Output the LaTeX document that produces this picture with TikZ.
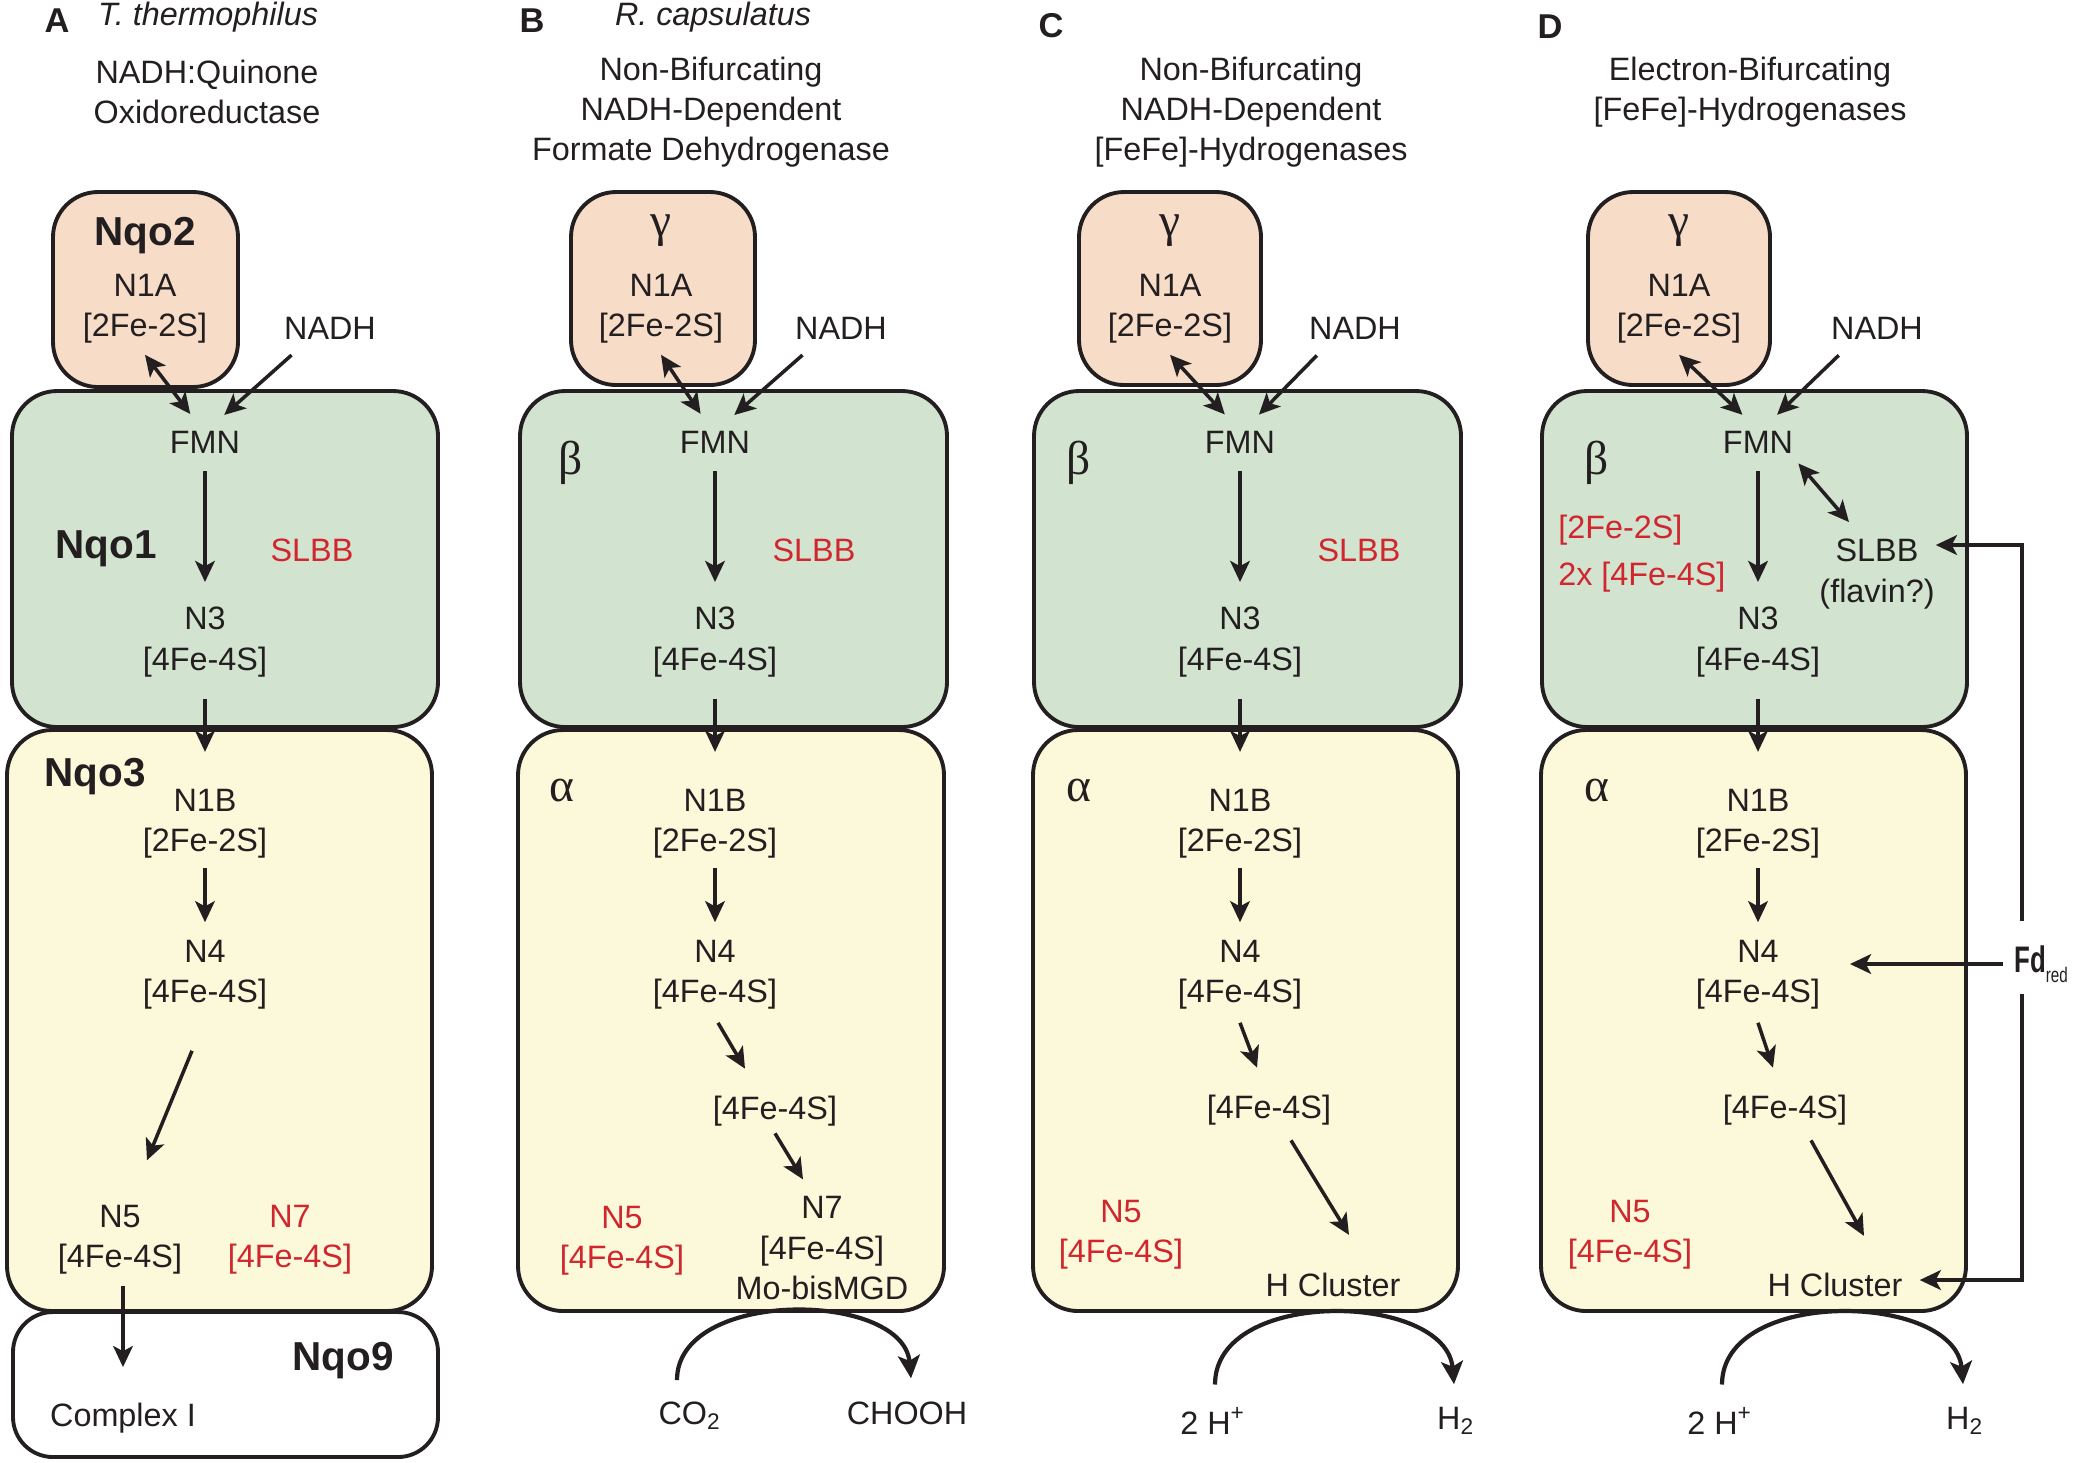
\documentclass[tikz,border=0pt]{standalone}
\usepackage{fontspec}
\setmainfont{Liberation Sans}
\newfontfamily\gkfont{Liberation Serif}
\usepackage{graphicx}
\usepackage{tikz}
\usetikzlibrary{arrows.meta,calc}

\definecolor{peach}{HTML}{F7DCC8}
\definecolor{mint}{HTML}{D2E3D0}
\definecolor{cream}{HTML}{FCF8DA}
\definecolor{inkc}{HTML}{231F20}
\definecolor{cofred}{HTML}{D0262D}

\newcommand{\fefour}{[4Fe-4S]}
\newcommand{\fetwo}{[2Fe-2S]}

\begin{document}
\begin{tikzpicture}[x=0.01cm, y=-0.01cm,
    every node/.style={inner sep=3pt, text=inkc, align=center, font=\fontsize{9.2}{11.4}\selectfont},
    pan/.style={font=\fontsize{9.8}{12}\selectfont\bfseries},
    org/.style={font=\fontsize{9.2}{11.4}\selectfont\itshape},
    sub/.style={font=\fontsize{11.5}{13}\selectfont\bfseries},
    gk/.style={font=\fontsize{13.5}{15}\selectfont\gkfont},
    cof/.style={text=cofred},
    topbox/.style={draw=inkc, line width=1.1pt, fill=peach, rounded corners=0.45cm},
    midbox/.style={draw=inkc, line width=1.1pt, fill=mint, rounded corners=0.45cm},
    lowbox/.style={draw=inkc, line width=1.1pt, fill=cream, rounded corners=0.45cm},
    basebox/.style={draw=inkc, line width=1.1pt, fill=white, rounded corners=0.4cm},
    arr/.style={draw=inkc, line width=1pt, -{Stealth[length=6pt,width=5.6pt,inset=1.5pt]}},
    dbl/.style={draw=inkc, line width=1pt, {Stealth[length=6pt,width=5.6pt,inset=1.5pt]}-{Stealth[length=6pt,width=5.6pt,inset=1.5pt]}},
    rxn/.style={draw=inkc, line width=1.2pt, -{Stealth[length=6.5pt,width=6.2pt,inset=1.5pt]}},
]
\useasboundingbox (0,0) rectangle (2073,1462);

% subunit boxes
\draw[topbox] (53,192) rectangle (238,387);
\draw[midbox] (12,391) rectangle (438,727);
\draw[lowbox] (7,730) rectangle (432,1311);
\draw[basebox] (13,1312) rectangle (438,1457);
\draw[topbox] (571,192) rectangle (755,385);
\draw[midbox] (520,391) rectangle (947,727);
\draw[lowbox] (518,730) rectangle (944,1311);
\draw[topbox] (1079,192) rectangle (1261,385);
\draw[midbox] (1034,391) rectangle (1461,727);
\draw[lowbox] (1033,730) rectangle (1458,1311);
\draw[topbox] (1588,192) rectangle (1770,385);
\draw[midbox] (1542,391) rectangle (1967,727);
\draw[lowbox] (1541,730) rectangle (1966,1311);

% A
\node[pan] (pA) at (57,21) {A};
\node[org] (oA) at (208,17) {T. thermophilus};
\node (tA) at (207,92) {NADH:Quinone\\Oxidoreductase};
\node[sub] (qo2) at (145,236) {Nqo2};
\node (n1aA) at (145,309) {N1A\\\fetwo};
\node (nadhA) at (330,328) {NADH};
\node (fmnA) at (205,442) {FMN};
\node[sub] (qo1) at (106,549) {Nqo1};
\node[cof] (slbbA) at (312,550) {SLBB};
\node (n3A) at (205,642) {N3\\\fefour};
\node[sub] (qo3) at (95,777) {Nqo3};
\node (n1bA) at (205,824) {N1B\\\fetwo};
\node (n4A) at (205,975) {N4\\\fefour};
\node (n5A) at (120,1240) {N5\\\fefour};
\node[cof] (n7A) at (290,1240) {N7\\\fefour};
\node[sub] (qo9) at (343,1361) {Nqo9};
\node (cxA) at (123,1418) {Complex I};

\draw[dbl, shorten >=2pt] (n1aA.south) -- (fmnA.115);
\draw[arr, shorten <=2pt, shorten >=2pt] (nadhA.214) -- (fmnA.58);
\draw[arr, shorten <=2pt, shorten >=4pt] (fmnA) -- (n3A);
\draw[arr, shorten <=3pt, shorten >=7.5pt] (n3A) -- (n1bA);
\draw[arr, shorten <=-0.5pt, shorten >=2pt] (n1bA) -- (n4A);
\draw[arr] ($(n4A.south)+(-13,30)$) -- ($(n5A.north)+(27,-34)$);
\draw[arr, shorten >=7pt] (n5A.south -| cxA.north) -- (cxA.north);

% B
\node[pan] (pB) at (532,21) {B};
\node[org] (oB) at (713,17) {R. capsulatus};
\node (tB) at (711,112) {Non-Bifurcating\\NADH-Dependent\\Formate Dehydrogenase};
\node[gk] (gB) at (661,231) {γ};
\node (n1aB) at (661,309) {N1A\\\fetwo};
\node (nadhB) at (841,328) {NADH};
\node[gk] (bB) at (571,463) {β};
\node (fmnB) at (715,442) {FMN};
\node[cof] (slbbB) at (814,550) {SLBB};
\node (n3B) at (715,642) {N3\\\fefour};
\node[gk] (aB) at (562,791) {α};
\node (n1bB) at (715,824) {N1B\\\fetwo};
\node (n4B) at (715,975) {N4\\\fefour};
\node (fe4B) at (775,1111) {\fefour};
\node (n7B) at (822,1248) {N7\\\fefour\\Mo-bisMGD};
\node[cof] (n5B) at (622,1241) {N5\\\fefour};
\node (co2) at (690,1416) {CO\textsubscript{2}};
\node (chooh) at (907,1413) {CHOOH};

\draw[dbl, shorten >=2pt] (n1aB.south) -- (fmnB.115);
\draw[arr, shorten <=2pt, shorten >=2pt] (nadhB.214) -- (fmnB.58);
\draw[arr, shorten <=2pt, shorten >=4pt] (fmnB) -- (n3B);
\draw[arr, shorten <=3pt, shorten >=7.5pt] (n3B) -- (n1bB);
\draw[arr, shorten <=-0.5pt, shorten >=2pt] (n1bB) -- (n4B);
\draw[arr] ($(n4B.south)+(3,2)$) -- ($(fe4B.north)+(-30,-16)$);
\draw[arr] ($(fe4B.south)+(0,-4)$) -- ($(n7B.north)+(-19,-6)$);
\draw[rxn] ($(co2.north)+(-13,-11)$) .. controls +(0,-92) and +(-8,-88) .. ($(chooh.north)+(4,-12)$);

% C
\node[pan] (pC) at (1051,26) {C};
\node (tC) at (1251,112) {Non-Bifurcating\\NADH-Dependent\\{}[FeFe]-Hydrogenases};
\node[gk] (gC) at (1170,231) {γ};
\node (n1aC) at (1170,309) {N1A\\\fetwo};
\node (nadhC) at (1355,328) {NADH};
\node[gk] (bC) at (1079,463) {β};
\node (fmnC) at (1240,442) {FMN};
\node[cof] (slbbC) at (1359,550) {SLBB};
\node (n3C) at (1240,642) {N3\\\fefour};
\node[gk] (aC) at (1079,791) {α};
\node (n1bC) at (1240,824) {N1B\\\fetwo};
\node (n4C) at (1240,975) {N4\\\fefour};
\node (fe4C) at (1269,1110) {\fefour};
\node (hclC) at (1333,1285) {H Cluster};
\node[cof] (n5C) at (1121,1235) {N5\\\fefour};
\node (hpC) at (1213,1421) {2 H\textsuperscript{+}};
\node (htC) at (1456,1421) {H\textsubscript{2}};

\draw[dbl, shorten >=2pt] (n1aC.south) -- (fmnC.115);
\draw[arr, shorten <=2pt, shorten >=2pt] (nadhC.214) -- (fmnC.58);
\draw[arr, shorten <=2pt, shorten >=4pt] (fmnC) -- (n3C);
\draw[arr, shorten <=3pt, shorten >=7.5pt] (n3C) -- (n1bC);
\draw[arr, shorten <=-0.5pt, shorten >=2pt] (n1bC) -- (n4C);
\draw[arr] ($(n4C.south)+(0,2)$) -- ($(fe4C.north)+(-12,-16)$);
\draw[arr] ($(fe4C.south)+(22,4)$) -- ($(hclC.north)+(16,-27)$);
\draw[rxn] ($(hpC.north)+(2,-12)$) .. controls +(0,-98) and +(-8,-92) .. ($(htC.north)+(-2,-12)$);

% D
\node[pan] (pD) at (1550,27) {D};
\node (tD) at (1750,92) {Electron-Bifurcating\\{}[FeFe]-Hydrogenases};
\node[gk] (gD) at (1679,231) {γ};
\node (n1aD) at (1679,309) {N1A\\\fetwo};
\node (nadhD) at (1877,328) {NADH};
\node[gk] (bD) at (1597,463) {β};
\node (fmnD) at (1758,442) {FMN};
\node[cof, anchor=west, align=left] (clD) at (1547,554) {\fetwo\\[2pt]2x \fefour};
\node (slbbD) at (1877,574) {SLBB\\(flavin?)};
\node (n3D) at (1758,642) {N3\\\fefour};
\node[gk] (aD) at (1597,791) {α};
\node (n1bD) at (1758,824) {N1B\\\fetwo};
\node (n4D) at (1758,975) {N4\\\fefour};
\node (fe4D) at (1785,1110) {\fefour};
\node (hclD) at (1835,1285) {H Cluster};
\node[cof] (n5D) at (1630,1235) {N5\\\fefour};
\node (hpD) at (1720,1421) {2 H\textsuperscript{+}};
\node (htD) at (1965,1421) {H\textsubscript{2}};
\node[anchor=east, inner sep=1pt] (fd) at (2072,964)
    {\scalebox{0.7}[1]{\fontsize{10.5}{12}\selectfont\bfseries Fd}\raisebox{-3pt}{\scalebox{0.72}[1]{\fontsize{6}{7}\selectfont red}}};
\coordinate (fdTop) at (2022,921);
\coordinate (fdBot) at (2022,994);

\draw[dbl, shorten >=2pt] (n1aD.south) -- (fmnD.115);
\draw[arr, shorten <=2pt, shorten >=2pt] (nadhD.214) -- (fmnD.58);
\draw[dbl] ($(fmnD.south east)+(-6,-1)$) -- ($(slbbD.north)+(-28,-6)$);
\draw[arr, shorten <=2pt, shorten >=4pt] (fmnD) -- (n3D);
\draw[arr, shorten <=3pt, shorten >=7.5pt] (n3D) -- (n1bD);
\draw[arr, shorten <=-0.5pt, shorten >=2pt] (n1bD) -- (n4D);
\draw[arr] ($(n4D.south)+(0,2)$) -- ($(fe4D.north)+(-12,-16)$);
\draw[arr] ($(fe4D.south)+(26,4)$) -- ($(hclD.north)+(29,-26)$);
\draw[rxn] ($(hpD.north)+(2,-12)$) .. controls +(0,-98) and +(-8,-92) .. ($(htD.north)+(-2,-12)$);
\draw[arr, line width=1.1pt, shorten <=2pt, shorten >=5.3pt] (fd.west) -- (fd.west -| n4D.east);
\draw[arr, line width=1.1pt] (fdTop) |- ($(slbbD.east)+(-10,-29)$);
\draw[arr, line width=1.1pt] (fdBot) |- ($(hclD.east)+(6,-5)$);
\end{tikzpicture}
\end{document}
